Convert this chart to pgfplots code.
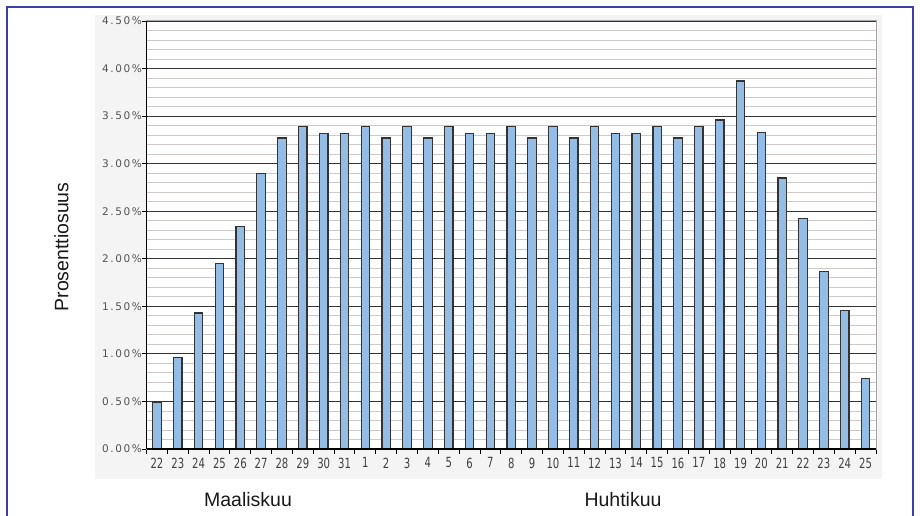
\documentclass[border=0pt]{standalone}
\usepackage{fontspec}
\setmainfont{Liberation Sans}
\newfontfamily\yfont[LetterSpace=15]{DejaVu Sans}
\newfontfamily\xfont[FakeStretch=0.72]{DejaVu Sans}
\usepackage{pgfplots}
\pgfplotsset{compat=1.18}
\definecolor{barblue}{RGB}{148,189,230}
\definecolor{frameblue}{RGB}{62,62,168}
\definecolor{minorgrid}{RGB}{206,201,198}
\definecolor{panelgray}{RGB}{244,244,244}

\begin{document}
\begin{tikzpicture}
\useasboundingbox (0pt,0pt) rectangle (920pt,515pt);
\fill[panelgray] (95pt,36pt) rectangle (882pt,500pt);
\draw[frameblue, line width=1.5pt] (7pt,-10pt) rectangle (913pt,508pt);
\begin{axis}[
    at={(146.5pt,66pt)}, anchor=south west,
    scale only axis, width=729.5pt, height=428pt,
    ybar, bar width=8.5pt,
    xmin=-0.5, xmax=34.5, ymin=0, ymax=4.5,
    xtick={-0.5,0.5,...,34.5}, xticklabels={},
    extra x ticks={0,1,...,34},
    extra x tick labels={22,23,24,25,26,27,28,29,30,31,1,2,3,4,5,6,7,8,9,10,11,12,13,14,15,16,17,18,19,20,21,22,23,24,25},
    extra x tick style={major tick style={draw=none}},
    ytick={0,0.5,...,4.5},
    minor y tick num=4,
    tick pos=left,
    ymajorgrids, yminorgrids,
    major grid style={black!80, line width=1.2pt},
    minor grid style={minorgrid, line width=0.9pt},
    tick align=outside, major tick length=4.5pt, minor tick length=0pt,
    tick style={black, line width=0.9pt},
    axis line style={draw=gray!70, line width=1pt},
    axis background/.style={fill=white},
    /pgf/number format/assume math mode=true,
    yticklabel={\pgfmathprintnumber[fixed,fixed zerofill,precision=2]{\tick}\%},
    yticklabel style={font=\yfont\fontsize{10.5}{12}\selectfont, text=black!68, inner sep=0pt, anchor=east},
    xticklabel style={font=\xfont\fontsize{14}{16}\selectfont, text=black!75, inner sep=0pt, anchor=north, yshift=-4pt},
    ylabel={Prosenttiosuus},
    ylabel style={at={(axis description cs:-0.1166,0.472)}, anchor=center, font=\fontsize{19.5}{22}\selectfont, text=black!90},
    after end axis/.code={
      \draw[black, line width=1.3pt] (rel axis cs:0,0) -- (rel axis cs:0,1);
      \draw[black, line width=1.2pt] (rel axis cs:0,0) -- (rel axis cs:1,0);
    },
]
\addplot[fill=barblue, draw=black!80, line width=1.2pt] coordinates {
    (0,0.49) (1,0.96) (2,1.43) (3,1.95) (4,2.34) (5,2.90) (6,3.27)
    (7,3.39) (8,3.32) (9,3.32) (10,3.39) (11,3.27) (12,3.39) (13,3.27)
    (14,3.39) (15,3.32) (16,3.32) (17,3.39) (18,3.27) (19,3.39) (20,3.27)
    (21,3.39) (22,3.32) (23,3.32) (24,3.39) (25,3.27) (26,3.39) (27,3.46)
    (28,3.87) (29,3.33) (30,2.85) (31,2.42) (32,1.87) (33,1.46) (34,0.74)
};
\end{axis}
\node[anchor=base, font=\fontsize{19.5}{22}\selectfont, text=black!90] at (248pt,8.3pt) {Maaliskuu};
\node[anchor=base, font=\fontsize{19.5}{22}\selectfont, text=black!90] at (623pt,8.3pt) {Huhtikuu};
\end{tikzpicture}
\end{document}
